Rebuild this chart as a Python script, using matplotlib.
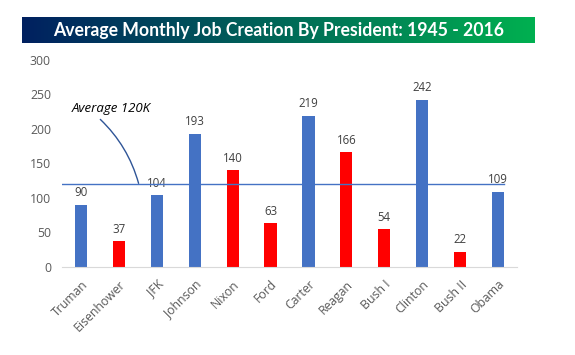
import numpy as np
import matplotlib.pyplot as plt
from matplotlib.colors import LinearSegmentedColormap

presidents = ['Truman', 'Eisenhower', 'JFK', 'Johnson', 'Nixon', 'Ford', 'Carter',
              'Reagan', 'Bush I', 'Clinton', 'Bush II', 'Obama']
jobs = [90, 37, 104, 193, 140, 63, 219, 166, 54, 242, 22, 109]
party = ['D', 'R', 'D', 'D', 'R', 'R', 'D', 'R', 'R', 'D', 'R', 'D']
average = 120

blue = '#4472C4'
red = '#FF0000'
colors = [blue if p == 'D' else red for p in party]

plt.rcParams['font.family'] = ['Open Sans', 'DejaVu Sans']

fig = plt.figure(figsize=(5.75, 3.55), dpi=100)

# title banner with gradient
bax = fig.add_axes([22 / 575, 1 - 43.5 / 355, 513 / 575, 26.5 / 355])
grad = np.linspace(0, 1, 256).reshape(1, -1)
cmap = LinearSegmentedColormap.from_list('banner', ['#002060', '#00B050'])
bax.imshow(grad, aspect='auto', cmap=cmap, extent=[0, 1, 0, 1])
bax.set_axis_off()
bax.text(0.5, 0.48, 'Average Monthly Job Creation By President: 1945 - 2016',
         color='white', fontsize=12.7, fontweight='bold', ha='center', va='center',
         family=['Lato', 'DejaVu Sans'])

ax = fig.add_axes([62 / 575, 1 - 266.7 / 355, 455 / 575, 206.7 / 355])
x = np.arange(len(presidents))
ax.bar(x, jobs, width=0.32, color=colors, zorder=2)
for xi, v in zip(x, jobs):
    ax.text(xi, v + 8, str(v), ha='center', va='bottom', fontsize=8.3, color='#404040')

ax.plot([-0.5, 11.15], [average, average], color=blue, lw=1, zorder=3)
ax.annotate('Average 120K', xy=(1.52, average + 1), xytext=(-0.25, 230),
            fontsize=9.5, style='italic', color='black', va='center',
            arrowprops=dict(arrowstyle='-', color='#2F5597', lw=1,
                            connectionstyle='arc3,rad=-0.15',
                            shrinkA=2, shrinkB=0, relpos=(0.3, 0)))

ax.set_xlim(-0.5, 11.5)
ax.set_ylim(0, 300)
ax.set_yticks([0, 50, 100, 150, 200, 250, 300])
ax.set_xticks(x)
ax.set_xticklabels(presidents, rotation=45, ha='right', rotation_mode='anchor')
ax.tick_params(axis='both', length=0, labelsize=8.8, labelcolor='#595959')
ax.tick_params(axis='y', pad=8)
ax.tick_params(axis='x', pad=8)
for s in ['top', 'right', 'left']:
    ax.spines[s].set_visible(False)
ax.spines['bottom'].set_color('#D9D9D9')

fig.savefig('out.png', dpi=100)
